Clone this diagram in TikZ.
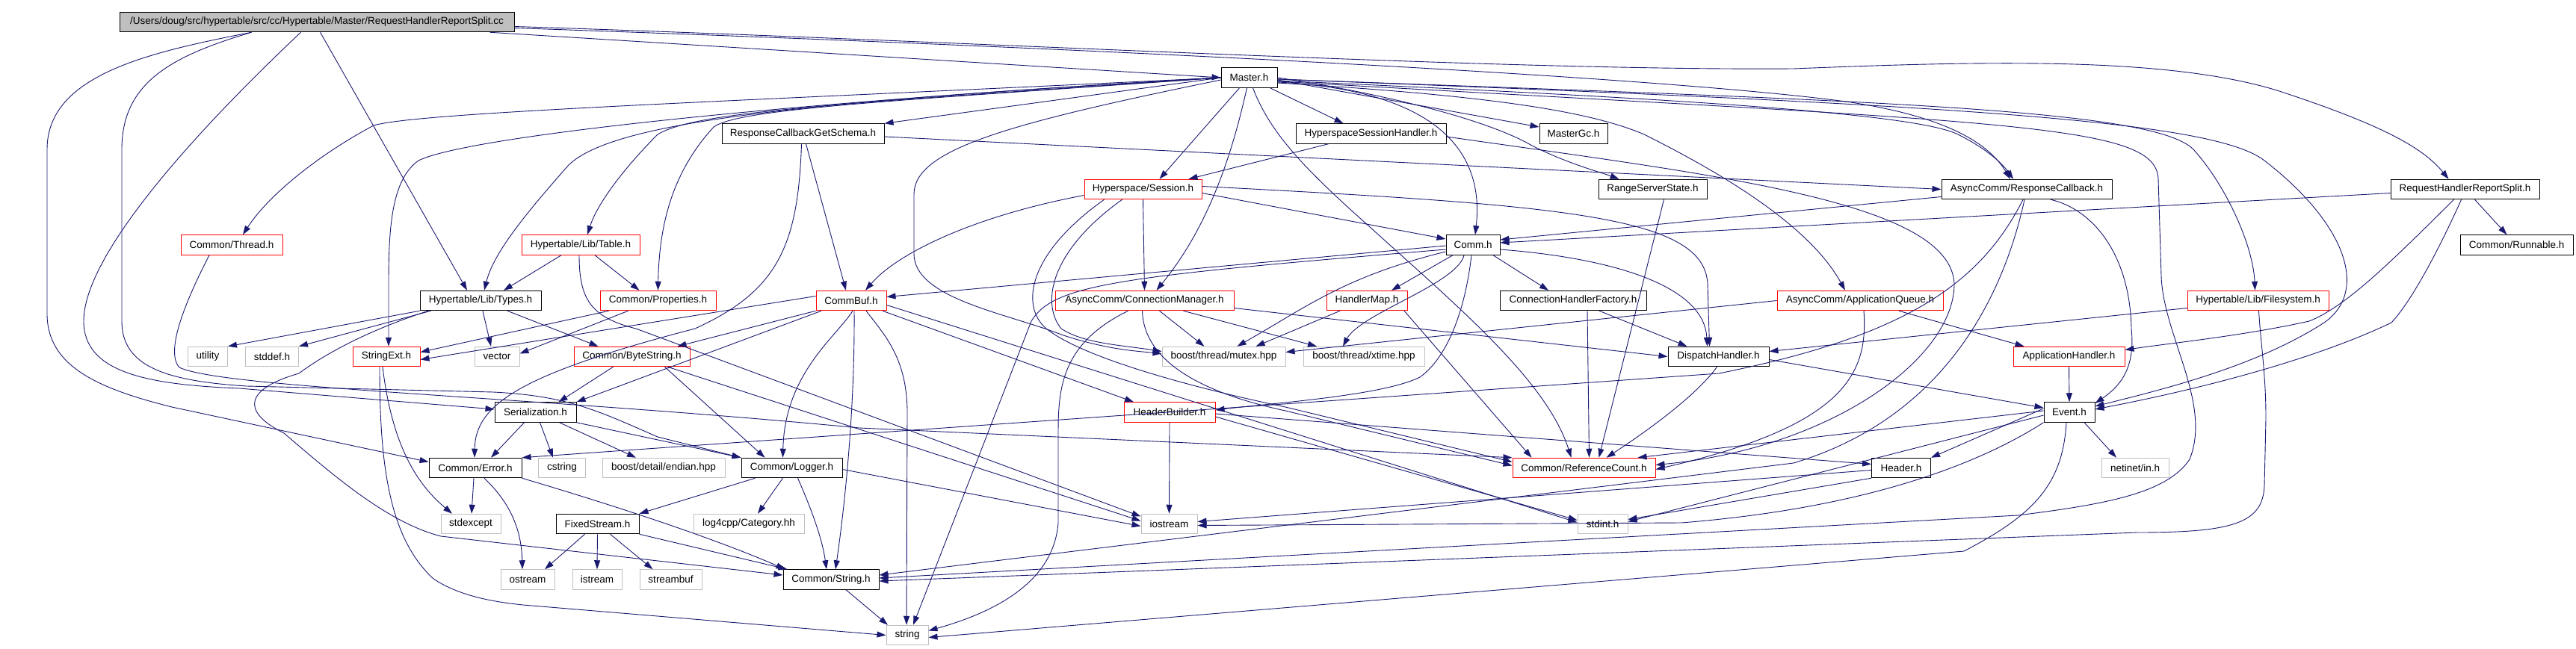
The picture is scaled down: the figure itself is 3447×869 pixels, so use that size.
\documentclass[tikz,border=0pt]{standalone}
\usepackage{fontspec}
\setmainfont{Liberation Sans}
\usetikzlibrary{arrows.meta}
\definecolor{edgecol}{HTML}{191970}
\definecolor{graybd}{HTML}{BFBFBF}
\tikzset{
  box/.style={draw=black, line width=1pt, minimum height=26.5pt, inner sep=0pt, font=\fontsize{13.5}{15}\selectfont, text=black},
  redbox/.style={box, draw=red},
  sysbox/.style={box, draw=graybd},
  rootbox/.style={box, fill=graybd},
  edge/.style={draw=edgecol, line width=0.9pt, -{Triangle[length=12pt,width=8pt]}},
}
\begin{document}
\begin{tikzpicture}[x=1pt,y=-1pt]
\useasboundingbox[fill=white] (0,0) rectangle (3447,869);
% nodes
\node[rootbox, minimum width=528pt] (R) at (424,29.5) {/Users/doug/src/hypertable/src/cc/Hypertable/Master/RequestHandlerReportSplit.cc};
\node[box, minimum width=75pt] (M) at (1671.5,104) {Master.h};
\node[box, minimum width=217pt] (RCGS) at (1074.5,179) {ResponseCallbackGetSchema.h};
\node[box, minimum width=201pt] (HSH) at (1834.5,179) {HyperspaceSessionHandler.h};
\node[box, minimum width=91pt] (MGC) at (2105.5,179) {MasterGc.h};
\node[box, minimum width=145pt] (RSS) at (2211.5,253.5) {RangeServerState.h};
\node[box, minimum width=228pt] (RCB) at (2712,253.5) {AsyncComm/ResponseCallback.h};
\node[box, minimum width=199pt] (RHRS) at (3298.5,253.5) {RequestHandlerReportSplit.h};
\node[box, minimum width=151pt] (RUN) at (3367.5,328) {Common/Runnable.h};
\node[redbox, minimum width=157pt] (SES) at (1529.5,253.5) {Hyperspace/Session.h};
\node[redbox, minimum width=136pt] (THR) at (310,328) {Common/Thread.h};
\node[redbox, minimum width=158pt] (TAB) at (777,328) {Hypertable/Lib/Table.h};
\node[box, minimum width=162pt] (TYP) at (643,402.5) {Hypertable/Lib/Types.h};
\node[redbox, minimum width=155pt] (PROP) at (880.5,402.5) {Common/Properties.h};
\node[redbox, minimum width=94pt] (CB) at (1139,402.5) {CommBuf.h};
\node[redbox, minimum width=239pt] (CM) at (1531.5,402.5) {AsyncComm/ConnectionManager.h};
\node[box, minimum width=72pt] (COMM) at (1971,328) {Comm.h};
\node[redbox, minimum width=108pt] (HM) at (1829,402.5) {HandlerMap.h};
\node[box, minimum width=196pt] (CHF) at (2105,402.5) {ConnectionHandlerFactory.h};
\node[redbox, minimum width=222pt] (AQ) at (2489,402.5) {AsyncComm/ApplicationQueue.h};
\node[redbox, minimum width=189pt] (FS) at (3021.5,402.5) {Hypertable/Lib/Filesystem.h};
\node[sysbox, minimum width=53pt] (UTIL) at (278,477.5) {utility};
\node[sysbox, minimum width=71pt] (STDDEF) at (364,477.5) {stddef.h};
\node[redbox, minimum width=90pt] (SEXT) at (517,477.5) {StringExt.h};
\node[sysbox, minimum width=60pt] (VEC) at (665,477.5) {vector};
\node[redbox, minimum width=155pt] (BS) at (845.5,477.5) {Common/ByteString.h};
\node[sysbox, minimum width=165pt] (MUT) at (1637.5,477.5) {boost/thread/mutex.hpp};
\node[sysbox, minimum width=162pt] (XT) at (1825,477.5) {boost/thread/xtime.hpp};
\node[box, minimum width=135pt] (DH) at (2299.5,477.5) {DispatchHandler.h};
\node[redbox, minimum width=149pt] (AH) at (2768.5,477.5) {ApplicationHandler.h};
\node[box, minimum width=109pt] (SER) at (716.5,552) {Serialization.h};
\node[redbox, minimum width=122pt] (HB) at (1565,552) {HeaderBuilder.h};
\node[box, minimum width=68pt] (EV) at (2769,552) {Event.h};
\node[box, minimum width=124pt] (ERR) at (636,626.5) {Common/Error.h};
\node[sysbox, minimum width=63pt] (CSTR) at (752,626.5) {cstring};
\node[sysbox, minimum width=164pt] (END) at (888,626.5) {boost/detail/endian.hpp};
\node[box, minimum width=135pt] (LOG) at (1059.5,626.5) {Common/Logger.h};
\node[redbox, minimum width=191pt] (RC) at (2119.5,626.5) {Common/ReferenceCount.h};
\node[box, minimum width=79pt] (HDR) at (2544,626.5) {Header.h};
\node[sysbox, minimum width=90pt] (NET) at (2857,626.5) {netinet/in.h};
\node[sysbox, minimum width=80pt] (SEXC) at (630,701.5) {stdexcept};
\node[box, minimum width=111pt] (FIX) at (799.5,701.5) {FixedStream.h};
\node[sysbox, minimum width=148pt] (L4C) at (1002,701.5) {log4cpp/Category.hh};
\node[sysbox, minimum width=75pt] (IOS) at (1564.5,701.5) {iostream};
\node[sysbox, minimum width=67pt] (SINT) at (2144.5,701.5) {stdint.h};
\node[sysbox, minimum width=72pt] (OST) at (706,776) {ostream};
\node[sysbox, minimum width=66pt] (IST) at (799,776) {istream};
\node[sysbox, minimum width=83pt] (SBUF) at (897.5,776) {streambuf};
\node[box, minimum width=128pt] (STR) at (1112,776) {Common/String.h};
\node[sysbox, minimum width=56pt] (STRING) at (1214,850.5) {string};

% ---- edges from root
\draw[edge] ([xshift=-33]R.south east) -- (M.west);
\draw[edge] ([yshift=-6]R.east) .. controls (1300,55) and (2000,95) .. (2400,92) .. controls (2650,82) and (2900,75) .. (3050,122) .. controls (3180,165) and (3240,195) .. ([xshift=-22]RHRS.north);
\draw[edge] ([yshift=-8]R.east) .. controls (1400,62) and (2200,100) .. (2470,136) .. controls (2600,155) and (2660,190) .. ([xshift=-22]RCB.north);
\draw[edge] ([xshift=269]R.south west) -- ([xshift=-18]TYP.north);
\draw[edge] ([xshift=177]R.south west) .. controls (200,70) and (63,100) .. (63,200) -- (63,420) .. controls (63,490) and (130,520) .. (230,545) -- ([yshift=8]ERR.west);
\draw[edge] ([xshift=243]R.south west) .. controls (300,140) and (112,330) .. (112,430) .. controls (112,500) and (200,515) .. (320,520) -- ([yshift=4]SER.west);
\draw[edge] ([xshift=177]R.south west) .. controls (230,75) and (163,110) .. (163,200) -- (163,430) .. controls (163,490) and (220,510) .. (330,517) -- (660,525) .. controls (760,530) and (800,550) .. (880,585) -- (LOG.north west);

% ---- edges from Master.h
\draw[edge] (M.west) -- (RCGS.north east);
\draw[edge] ([xshift=-10]M.south east) -- ([xshift=-37]HSH.north);
\draw[edge] ([yshift=-3]M.east) -- ([yshift=9]MGC.west);
\draw[edge] (M.east) .. controls (1850,125) and (1990,160) .. (2050,195) .. controls (2100,220) and (2140,230) .. ([xshift=-45]RSS.north);
\draw[edge] ([yshift=-4]M.east) .. controls (2200,130) and (2560,150) .. (2620,180) .. controls (2660,200) and (2680,220) .. ([xshift=-18]RCB.north);
\draw[edge] ([xshift=-13]M.south) -- ([xshift=22]SES.north);
\draw[edge] ([xshift=-3]M.south) .. controls (1650,200) and (1620,300) .. ([xshift=16]CM.north);
\draw[edge] ([yshift=-6]M.east) .. controls (1870,118) and (1990,170) .. ([xshift=3]COMM.north);
\draw[edge] ([yshift=-7]M.east) .. controls (2000,128) and (2130,150) .. (2200,180) .. controls (2300,230) and (2420,300) .. ([xshift=-20]AQ.north);
\draw[edge] ([yshift=-2]M.east) .. controls (2500,135) and (2880,145) .. (2935,200) .. controls (2980,250) and (3015,330) .. ([xshift=-4]FS.north);
\draw[edge] ([yshift=-2]M.east) .. controls (2600,140) and (2960,160) .. (3030,215) .. controls (3140,300) and (3170,390) .. (3110,432) .. controls (3020,490) and (2900,520) .. ([yshift=8]EV.east);
\draw[edge] ([yshift=-5]M.east) .. controls (2700,165) and (2885,165) .. (2888,240) -- (2892,370) .. controls (2895,450) and (2960,540) .. (2930,615) .. controls (2900,660) and (2820,675) .. (2700,690) -- ([yshift=2]STR.east);
\draw[edge] (M.west) .. controls (1000,140) and (620,185) .. (560,215) .. controls (525,240) and (520,300) .. (520,380) -- ([xshift=3]SEXT.north);
\draw[edge] (M.west) .. controls (1000,135) and (560,150) .. (500,168) .. controls (430,205) and (360,260) .. ([xshift=15]THR.north);
\draw[edge] (M.west) .. controls (1100,135) and (820,160) .. (760,222) .. controls (700,290) and (660,340) .. ([xshift=5]TYP.north);
\draw[edge] (M.west) .. controls (1100,140) and (930,150) .. (880,180) .. controls (840,220) and (800,270) .. ([xshift=9]TAB.north);
\draw[edge] (M.west) .. controls (1200,135) and (990,145) .. (955,170) .. controls (900,230) and (882,300) .. (PROP.north);
\draw[edge] ([xshift=5]M.south) .. controls (1700,180) and (1750,230) .. (1832,303) .. controls (1950,410) and (2070,510) .. ([xshift=-17]RC.north);
\draw[edge] ([yshift=-3]M.west) .. controls (1350,165) and (1223,200) .. (1223,260) -- (1223,340) .. controls (1223,400) and (1350,420) .. (1420,448) .. controls (1480,468) and (1520,470) .. ([yshift=4]MUT.west);

% ---- second level
\draw[edge] ([yshift=-4]RCGS.east) -- (RCB.west);
\draw[edge] ([xshift=4]RCGS.south) -- ([xshift=-7]CB.north);
\draw[edge] ([xshift=-2]RCGS.south) .. controls (1068,330) and (1040,390) .. (930,440) .. controls (700,500) and (636,540) .. ([xshift=-1]ERR.north);
\draw[edge] ([xshift=-57]HSH.south) -- ([xshift=61]SES.north);
\draw[edge] ([yshift=-4]HSH.east) .. controls (2300,235) and (2610,270) .. (2615,380) .. controls (2615,480) and (2450,600) .. ([yshift=4]RC.east);
\draw[edge] ([xshift=15]RSS.south) -- ([xshift=20]RC.north);
\draw[edge] (AQ.west) -- ([yshift=6]MUT.east);
\draw[edge] ([xshift=52]AQ.south) -- ([xshift=-60]AH.north);
\draw[edge] ([xshift=5]AQ.south) .. controls (2500,500) and (2470,570) .. ([yshift=-2]RC.east);
\draw[edge] ([xshift=19]CHF.south) -- ([xshift=7]RC.north);
\draw[edge] ([xshift=35]CHF.south) -- ([xshift=-42]DH.north);
\draw[edge] ([xshift=-27]COMM.south) -- ([xshift=33]HM.north);
\draw[edge] ([xshift=27]COMM.south) -- ([xshift=-33]CHF.north);
\draw[edge] ([yshift=-1]COMM.west) -- ([yshift=5]CB.east);
\draw[edge] ([yshift=-6]COMM.west) .. controls (1500,370) and (1410,380) .. (1380,430) -- ([xshift=8]STRING.north);
\draw[edge] ([yshift=-9]COMM.west) .. controls (1800,370) and (1750,410) .. ([xshift=18]MUT.north);
\draw[edge] ([xshift=-12]COMM.south) .. controls (1950,380) and (1820,420) .. ([xshift=-28]XT.north);
\draw[edge] ([yshift=-6]COMM.east) .. controls (2150,345) and (2280,380) .. ([xshift=-15]DH.north);
\draw[edge] ([xshift=-2]COMM.south) .. controls (1960,420) and (1935,480) .. (1900,505) .. controls (1850,530) and (1700,540) .. ([yshift=3]HB.east);
\draw[edge] ([yshift=-4]DH.east) -- ([yshift=6]EV.west);
\draw[edge] ([xshift=-2]DH.south) .. controls (2270,530) and (2200,580) .. ([xshift=30]RC.north);
\draw[edge] ([yshift=-10]FS.west) -- ([yshift=7]DH.east);
\draw[edge] ([xshift=1]FS.south) .. controls (3025,460) and (3032,500) .. (3032,560) -- (3030,650) .. controls (3028,700) and (2990,713) .. (2860,713) -- ([yshift=-2]STR.east);
\draw[edge] ([yshift=-5]RHRS.west) -- ([yshift=3]COMM.east);
\draw[edge] ([yshift=-10]RCB.west) -- ([yshift=7]COMM.east);
\draw[edge] ([xshift=13]RHRS.south) -- ([xshift=-13]RUN.north);
\draw[edge] ([xshift=-15]RHRS.south) .. controls (3200,350) and (3140,410) .. (3090,430) .. controls (3000,450) and (2900,460) .. ([yshift=9]AH.east);
\draw[edge] ([xshift=-5]RHRS.south) .. controls (3270,320) and (3230,400) .. (3200,432) .. controls (3100,480) and (2950,520) .. ([yshift=4]EV.east);
\draw[edge] ([xshift=32]RCB.south) .. controls (2800,280) and (2850,340) .. (2852,440) .. controls (2857,490) and (2840,515) .. ([yshift=12]EV.east);
\draw[edge] ([xshift=-5]RCB.south) .. controls (2650,380) and (2550,450) .. (2300,500) -- (ERR.north east);
\draw[edge] ([xshift=-3]RCB.south) .. controls (2680,400) and (2600,560) .. (2400,620) -- ([yshift=6]STR.east);

% ---- Event, Header, HeaderBuilder
\draw[edge] ([yshift=5]EV.west) -- (HDR.north east);
\draw[edge] ([xshift=20]EV.south) -- ([xshift=-25]NET.north);
\draw[edge] ([yshift=-4]EV.west) -- ([yshift=3]SINT.east);
\draw[edge] (EV.south west) .. controls (2650,620) and (2500,680) .. (2250,700) -- ([yshift=-2]IOS.east);
\draw[edge] ([xshift=-4]EV.south) .. controls (2760,650) and (2720,690) .. (2628,738) -- ([yshift=-3]STRING.east);
\draw[edge] ([yshift=2]EV.west) -- ([xshift=72]RC.north);
\draw[edge] (AH.south) -- (EV.north);
\draw[edge] ([yshift=-3]HDR.west) -- ([yshift=3]IOS.east);
\draw[edge] (HDR.south west) -- ([yshift=6]SINT.east);
\draw[edge] ([yshift=-2]HB.east) -- ([yshift=5]HDR.west);
\draw[edge] (HB.south) -- (IOS.north);
\draw[edge] ([yshift=-6]HB.east) -- ([yshift=5]SINT.west);

% ---- CommBuf
\draw[edge] ([xshift=42]CB.south) -- ([xshift=-48]HB.north);
\draw[edge] ([xshift=-40]CB.south) -- (SER.north east);
\draw[edge] (CB.south west) -- ([xshift=61]BS.north);
\draw[edge] ([xshift=2]CB.south) .. controls (1120,450) and (1050,500) .. ([xshift=-12]LOG.north);
\draw[edge] ([xshift=4]CB.south) .. controls (1144,550) and (1130,680) .. ([xshift=6]STR.north);
\draw[edge] ([xshift=20]CB.south) .. controls (1185,450) and (1213,480) .. (1214,550) -- ([xshift=-1]STRING.north);
\draw[edge] ([yshift=-6]CB.east) -- ([yshift=2]SINT.west);
\draw[edge] ([yshift=6]CB.west) -- ([yshift=-4]SEXT.east);

% ---- Session, ConnectionManager, HandlerMap
\draw[edge] ([yshift=-8]SES.west) .. controls (1300,290) and (1200,340) .. ([xshift=19]CB.north);
\draw[edge] (SES.south) -- (CM.north);
\draw[edge] ([yshift=-5]SES.east) -- ([yshift=8]COMM.west);
\draw[edge] ([yshift=4]SES.east) .. controls (2100,275) and (2280,290) .. (2285,380) -- ([xshift=-12]DH.north);
\draw[edge] ([xshift=-28]SES.south) .. controls (1400,340) and (1395,410) .. (1420,440) .. controls (1450,460) and (1500,462) .. ([yshift=7]MUT.west);
\draw[edge] ([xshift=-52]SES.south) .. controls (1375,340) and (1365,410) .. (1400,440) .. controls (1450,480) and (1600,520) .. (1720,545) -- ([yshift=8]RC.west);
\draw[edge] ([xshift=-3]CM.south) .. controls (1530,470) and (1580,520) .. (1720,550) -- ([yshift=3]RC.west);
\draw[edge] ([xshift=-22]CM.south) .. controls (1420,460) and (1416,520) .. (1416,580) -- (1416,700) .. controls (1410,780) and (1330,820) .. ([yshift=6]STRING.east);
\draw[edge] ([xshift=20]CM.south) -- ([xshift=-26]MUT.north);
\draw[edge] ([xshift=52]CM.south) -- ([xshift=-63]XT.north);
\draw[edge] ([yshift=-10]CM.east) -- (DH.west);
\draw[edge] ([xshift=-36]HM.south) -- ([xshift=43]MUT.north);
\draw[edge] ([xshift=50]HM.south) -- ([xshift=-70]RC.north);
\draw[edge] ([xshift=-30]THR.south) .. controls (250,400) and (220,470) .. (240,492) .. controls (300,520) and (700,530) .. (1150,573) -- (RC.north west);

% ---- Table, Types, Properties
\draw[edge] ([xshift=-26]TAB.south) -- ([xshift=31]TYP.north);
\draw[edge] ([xshift=19]TAB.south) -- ([xshift=-25]PROP.north);
\draw[edge] ([xshift=-2]TAB.south) .. controls (775,400) and (790,425) .. (851,440) -- ([yshift=10]IOS.west);
\draw[edge] (TYP.south west) -- (UTIL.north east);
\draw[edge] ([xshift=15]TYP.south west) -- (STDDEF.north east);
\draw[edge] ([xshift=3]TYP.south) -- ([xshift=-8]VEC.north);
\draw[edge] ([xshift=36]TYP.south) -- ([xshift=-45]BS.north);
\draw[edge] ([xshift=-70]TYP.south) .. controls (500,440) and (440,470) .. (400,500) .. controls (330,520) and (320,550) .. (380,580) .. controls (450,640) and (520,700) .. (590,718) -- ([yshift=6]STR.west);
\draw[edge] ([xshift=-66]PROP.south) -- ([yshift=6]SEXT.east);
\draw[edge] ([xshift=-40]PROP.south) -- ([yshift=4]VEC.east);

% ---- ByteString, Serialization, StringExt
\draw[edge] ([xshift=-25]BS.south) -- ([xshift=31]SER.north);
\draw[edge] ([xshift=44]BS.south) -- ([xshift=-36]LOG.north);
\draw[edge] ([xshift=48]BS.south) -- ([yshift=4]IOS.west);
\draw[edge] ([xshift=-15]SER.south) -- ([xshift=21]ERR.north);
\draw[edge] ([xshift=6]SER.south) -- ([xshift=-12]CSTR.north);
\draw[edge] ([xshift=32]SER.south) -- ([xshift=-37]END.north);
\draw[edge] (SER.south east) -- (LOG.north west);
\draw[edge] ([xshift=-5]SEXT.south) .. controls (525,600) and (560,650) .. ([xshift=-25]SEXC.north);
\draw[edge] ([xshift=-9]SEXT.south) .. controls (508,620) and (520,720) .. (580,775) .. controls (610,795) and (650,805) .. (700,810) -- (STRING.west);

% ---- Error, Logger, FixedStream, String
\draw[edge] ([xshift=-2]ERR.south) -- ([xshift=1]SEXC.north);
\draw[edge] ([xshift=12]ERR.south) .. controls (690,680) and (698,720) .. ([xshift=-7]OST.north);
\draw[edge] (ERR.south east) .. controls (900,700) and (1000,740) .. ([xshift=3]STR.north west);
\draw[edge] ([xshift=-49]LOG.south) -- (FIX.north east);
\draw[edge] ([xshift=-12]LOG.south) -- ([xshift=12]L4C.north);
\draw[edge] ([xshift=8]LOG.south) .. controls (1085,680) and (1100,720) .. ([xshift=-6]STR.north);
\draw[edge] ([yshift=-2]LOG.east) -- ([yshift=-3]IOS.west);
\draw[edge] ([xshift=-17]FIX.south) -- ([xshift=23]OST.north);
\draw[edge] (FIX.south) -- (IST.north);
\draw[edge] ([xshift=17]FIX.south) -- ([xshift=-24]SBUF.north);
\draw[edge] (FIX.south east) -- ([xshift=6]STR.north west);
\draw[edge] ([xshift=20]STR.south) -- ([xshift=-26]STRING.north);
\end{tikzpicture}
\end{document}
